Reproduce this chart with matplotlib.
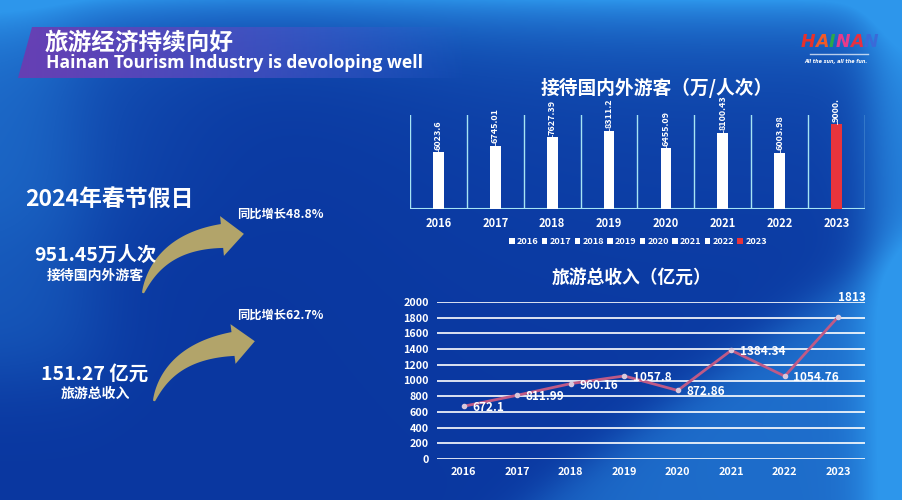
import numpy as np
import matplotlib
matplotlib.use("Agg")
import matplotlib.pyplot as plt
from matplotlib.patches import Polygon, Patch

plt.rcParams['font.family'] = ['Noto Sans CJK SC', 'DejaVu Sans']
plt.rcParams['font.weight'] = 'bold'

# ---------------- data ----------------
years = ["2016", "2017", "2018", "2019", "2020", "2021", "2022", "2023"]
visitors = [6023.6, 6745.01, 7627.39, 8311.2, 6455.09, 8100.43, 6003.98, 9000.0]
visitor_labels = ["6023.6", "6745.01", "7627.39", "8311.2", "6455.09", "8100.43", "6003.98", "9000."]
revenue = [672.1, 811.99, 960.16, 1057.8, 872.86, 1384.34, 1054.76, 1813]
revenue_labels = ["672.1", "811.99", "960.16", "1057.8", "872.86", "1384.34", "1054.76", "1813"]
y_ticks_rev = [0, 200, 400, 600, 800, 1000, 1200, 1400, 1600, 1800, 2000]

W, H = 903, 500
fig = plt.figure(figsize=(W / 100, H / 100), dpi=100)

# ---------------- background ----------------
bg = fig.add_axes([0, 0, 1, 1])
bg.set_xlim(0, W)
bg.set_ylim(H, 0)
bg.axis('off')

u = np.linspace(0, 1, W)[None, :]
v = np.linspace(0, 1, H)[:, None]
sig = lambda z: 1 / (1 + np.exp(-z))
dark = np.array([10, 55, 160]) / 255
light = np.array([45, 150, 235]) / 255
t = np.zeros((H, W))
t += 0.75 * np.exp(-v / 0.07)
t += 0.25 * np.exp(-v / 0.35) * sig((u - 0.45) / 0.1)
t += 0.7 * sig((u - 0.965) / 0.015)
boundary = 1.05 - (u - 0.55) * 1.25
t += 0.55 * sig((v - boundary) / 0.03) * sig((u - 0.55) / 0.05)
t += 0.35 * sig((0.07 - u + 0.05 * v) / 0.03) * sig((0.75 - v) / 0.05)
t += 0.15 * sig((0.2 - u) / 0.05) * sig((0.45 - v) / 0.05)
t = np.clip(t, 0, 1)
img = dark[None, None, :] * (1 - t[..., None]) + light[None, None, :] * t[..., None]
bg.imshow(img, extent=[0, W, H, 0], aspect='auto', zorder=0)

# title banner
ban = np.zeros((10, 200, 4))
xx = np.linspace(0, 1, 200)
ban[..., 0] = 0.42 - 0.22 * xx
ban[..., 1] = 0.24 + 0.14 * xx
ban[..., 2] = 0.70 + 0.12 * xx
ban[..., 3] = np.clip(1.0 - xx ** 2.2, 0, 1) * 0.95
bimg = bg.imshow(ban, extent=[18, 470, 78, 27], aspect='auto', zorder=1)
clip = Polygon([(32, 27), (470, 27), (470, 78), (18, 78)], closed=True,
               transform=bg.transData, facecolor='none', edgecolor='none')
bg.add_patch(clip)
bimg.set_clip_path(clip)

bg.text(45, 43, "旅游经济持续向好", color='white', fontsize=17, fontweight='bold',
        va='center', ha='left', zorder=3)
bg.text(46, 63, "Hainan Tourism Industry is devoloping well", color='white', fontsize=12.6,
        fontweight='bold', va='center', ha='left', zorder=3,
        family=['Open Sans', 'DejaVu Sans'])

# logo
fig.canvas.draw()
renderer = fig.canvas.get_renderer()
logo_letters = ["H", "A", "I", "N", "A", "N"]
logo_colors = ["#e8302a", "#f05a28", "#2aa84a", "#e83a8a", "#e83040", "#3a6ad8"]
lx = 801
for ch, col in zip(logo_letters, logo_colors):
    tt = bg.text(lx, 42, ch, color=col, fontsize=12.5, fontweight='bold', style='italic',
                 va='center', ha='left', zorder=3, family=['DejaVu Sans'])
    ext = tt.get_window_extent(renderer)
    lx += ext.width
bg.plot([810, 868], [54, 54], color='white', lw=1, alpha=0.7, zorder=3)
bg.text(836, 62, "All the sun, all the fun.", color='white', fontsize=3.5, style='italic',
        ha='center', va='center', zorder=3, family=['DejaVu Sans'])

# left panel text
bg.text(25, 199, "2024年春节假日", color='white', fontsize=16.5, fontweight='bold',
        va='center', ha='left', zorder=3)
bg.text(95, 255, "951.45万人次", color='white', fontsize=14, fontweight='bold',
        va='center', ha='center', zorder=3)
bg.text(95, 276, "接待国内外游客", color='white', fontsize=10, fontweight='bold',
        va='center', ha='center', zorder=3)
bg.text(95, 374, "151.27 亿元", color='white', fontsize=14, fontweight='bold',
        va='center', ha='center', zorder=3)
bg.text(95, 394, "旅游总收入", color='white', fontsize=10, fontweight='bold',
        va='center', ha='center', zorder=3)
bg.text(237, 214, "同比增长48.8%", color='white', fontsize=8.8, fontweight='bold',
        va='center', ha='left', zorder=3)
bg.text(237, 315, "同比增长62.7%", color='white', fontsize=8.8, fontweight='bold',
        va='center', ha='left', zorder=3)


def curved_arrow(ax, p0, p1, p2, w0, w1, head_len, head_w, color):
    p0, p1, p2 = map(np.asarray, (p0, p1, p2))
    tt = np.linspace(0, 1, 80)[:, None]
    pts = (1 - tt) ** 2 * p0 + 2 * (1 - tt) * tt * p1 + tt ** 2 * p2
    der = 2 * (1 - tt) * (p1 - p0) + 2 * tt * (p2 - p1)
    tan = der / np.linalg.norm(der, axis=1, keepdims=True)
    nor = np.column_stack([-tan[:, 1], tan[:, 0]])
    w = (w0 + (w1 - w0) * tt[:, 0] ** 0.8)[:, None]
    left = pts + nor * w / 2
    right = pts - nor * w / 2
    te, ne = tan[-1], nor[-1]
    tip = p2 + te * head_len
    hl = p2 + ne * head_w / 2
    hr = p2 - ne * head_w / 2
    poly = np.vstack([left, hl, tip, hr, right[::-1]])
    ax.add_patch(Polygon(poly, closed=True, facecolor=color, edgecolor='none', zorder=2))


curved_arrow(bg, (143, 293), (160, 242), (222, 236), 2, 24, 22, 40, '#b2a46a')
curved_arrow(bg, (154, 401), (170, 352), (233, 344), 2, 24, 22, 40, '#b2a46a')

# ---------------- bar chart ----------------
bx0, bx1, by0, by1 = 410, 865, 115, 209
axb = fig.add_axes([bx0 / W, 1 - by1 / H, (bx1 - bx0) / W, (by1 - by0) / H])
axb.patch.set_alpha(0)
xpos = np.arange(len(years))
bar_colors = ['white'] * 7 + ['#e8343c']
axb.bar(xpos, visitors, width=0.19, color=bar_colors, zorder=3)
axb.set_xlim(-0.5, len(years) - 0.5)
axb.set_ylim(0, 10000)
for b in np.arange(-0.5, len(years), 1.0):
    axb.axvline(b, color='#a6e4f4', lw=1, zorder=2)
axb.axhline(0, color='#a6e4f4', lw=1.5, zorder=2)
for x, val, lab in zip(xpos, visitors, visitor_labels):
    axb.plot([x, x], [val, val + 250], color='white', lw=0.6, zorder=3, clip_on=False)
    axb.text(x, val + 280, lab, rotation=90, ha='center', va='bottom', color='white',
             fontsize=6.5, fontweight='bold', clip_on=False, zorder=4)
for s in axb.spines.values():
    s.set_visible(False)
axb.set_yticks([])
axb.set_xticks(xpos)
axb.set_xticklabels(years, color='white', fontsize=8, fontweight='bold')
axb.tick_params(axis='x', length=0, pad=6)

bg.text(657, 88, "接待国内外游客（万/人次）", color='white', fontsize=13.5, fontweight='bold',
        ha='center', va='center', zorder=3)

handles = [Patch(facecolor=c, edgecolor='none') for c in bar_colors]
leg = fig.legend(handles, years, loc='center', bbox_to_anchor=(638 / W, 1 - 242 / H),
                 ncol=8, frameon=False, fontsize=6.6, handlelength=0.6, handleheight=0.6,
                 handletextpad=0.25, columnspacing=0.35, borderaxespad=0)
for txt in leg.get_texts():
    txt.set_color('white')
    txt.set_fontweight('bold')

# ---------------- line chart ----------------
lx0, lx1, ly0, ly1 = 437, 865, 302, 459
axl = fig.add_axes([lx0 / W, 1 - ly1 / H, (lx1 - lx0) / W, (ly1 - ly0) / H])
axl.patch.set_alpha(0)
axl.set_xlim(-0.5, len(years) - 0.5)
axl.set_ylim(0, 2000)
for yv in y_ticks_rev:
    axl.axhline(yv, color='white', lw=1.2, zorder=1)
axl.plot(xpos, revenue, color='#bf5a86', lw=2, zorder=3)
axl.plot(xpos, revenue, ls='none', marker='o', ms=3, color='#d8c8dc', zorder=4)
for i, (x, val, lab) in enumerate(zip(xpos, revenue, revenue_labels)):
    if i == len(years) - 1:
        axl.annotate(lab, (x, val), xytext=(0, 9), textcoords='offset points',
                     ha='left', va='bottom', color='white', fontsize=8.5, fontweight='bold',
                     annotation_clip=False, zorder=5)
    else:
        axl.annotate(lab, (x, val), xytext=(6, -1), textcoords='offset points',
                     ha='left', va='center', color='white', fontsize=8.5, fontweight='bold',
                     annotation_clip=False, zorder=5)
for s in axl.spines.values():
    s.set_visible(False)
axl.set_yticks(y_ticks_rev)
axl.set_yticklabels([str(y) for y in y_ticks_rev], color='white', fontsize=7.8, fontweight='bold')
axl.set_xticks(xpos)
axl.set_xticklabels(years, color='white', fontsize=7.8, fontweight='bold')
axl.tick_params(axis='both', length=0)
axl.tick_params(axis='y', pad=6)
axl.tick_params(axis='x', pad=6)

bg.text(632, 278, "旅游总收入（亿元）", color='white', fontsize=12.8, fontweight='bold',
        ha='center', va='center', zorder=3)

fig.savefig("out.png", dpi=100)
